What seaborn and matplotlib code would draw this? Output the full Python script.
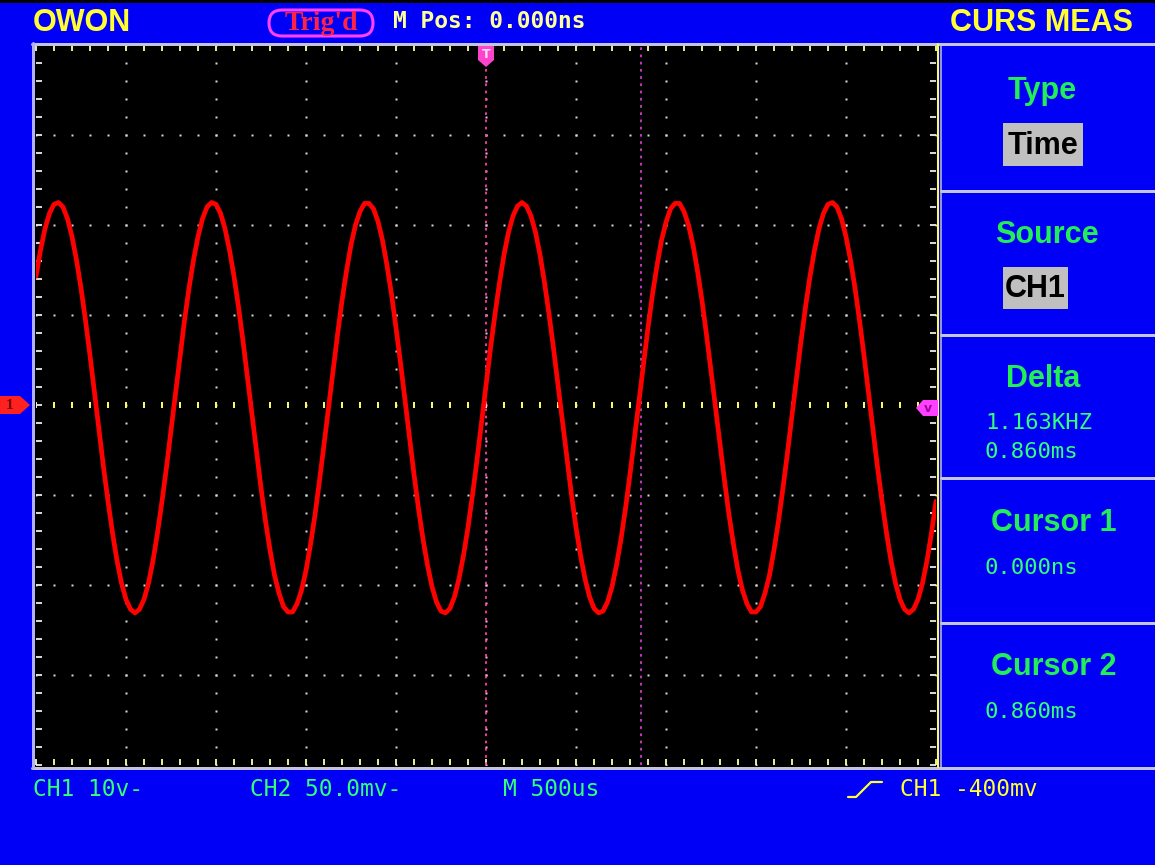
import numpy as np
import pandas as pd
import matplotlib
matplotlib.use("Agg")
import matplotlib.pyplot as plt
import seaborn as sns
from matplotlib.patches import Polygon, Rectangle, FancyBboxPatch
from matplotlib.lines import Line2D
from matplotlib.transforms import Affine2D

sample_interval_ms = 0.025
start_time_ms = -2.5
ch1_volts = [
    14.3, 17.2, 19.6, 21.3, 22.3, 22.5, 22.0, 20.7, 18.7, 16.1,
    13.0, 9.4, 5.5, 1.4, -2.8, -6.9, -10.7, -14.2, -17.3, -19.8,
    -21.6, -22.7, -23.1, -22.7, -21.6, -19.8, -17.3, -14.2, -10.7, -6.9,
    -2.8, 1.4, 5.5, 9.4, 13.0, 16.1, 18.7, 20.7, 22.0, 22.5,
    22.3, 21.3, 19.6, 17.2, 14.3, 10.9, 7.1, 3.0, -1.1, -5.3,
    -9.2, -12.9, -16.1, -18.9, -20.9, -22.4, -23.0, -23.0, -22.1, -20.6,
    -18.4, -15.5, -12.2, -8.4, -4.4, -0.3, 3.8, 7.8, 11.6, 14.9,
    17.8, 20.0, 21.5, 22.4, 22.4, 21.8, 20.4, 18.3, 15.5, 12.3,
    8.6, 4.7, 0.5, -3.6, -7.7, -11.5, -14.9, -17.8, -20.2, -21.9,
    -22.9, -23.1, -22.6, -21.3, -19.3, -16.7, -13.6, -10.0, -6.1, -2.0,
    2.2, 6.3, 10.1, 13.6, 16.7, 19.2, 21.0, 22.1, 22.5, 22.1,
    21.0, 19.2, 16.7, 13.6, 10.1, 6.3, 2.2, -2.0, -6.1, -10.0,
    -13.6, -16.7, -19.3, -21.3, -22.6, -23.1, -22.9, -21.9, -20.2, -17.8,
    -14.9, -11.5, -7.7, -3.6, 0.5, 4.7, 8.6, 12.3, 15.5, 18.3,
    20.3, 21.8, 22.4, 22.4, 21.5, 20.0, 17.8, 14.9, 11.6, 7.8,
    3.8, -0.3, -4.4, -8.4, -12.2, -15.5, -18.4, -20.6, -22.1, -23.0,
    -23.0, -22.4, -20.9, -18.9, -16.1, -12.9, -9.2, -5.3, -1.1, 3.0,
    7.1, 10.9, 14.3, 17.2, 19.6, 21.3, 22.3, 22.5, 22.0, 20.7,
    18.7, 16.1, 13.0, 9.4, 5.5, 1.4, -2.8, -6.9, -10.7, -14.2,
    -17.3, -19.8, -21.6, -22.7, -23.1, -22.7, -21.6, -19.8, -17.3, -14.2,
    -10.7,
]
time_ms = start_time_ms + sample_interval_ms * np.arange(len(ch1_volts))

cursor_times_ms = [0.0, 0.860]
header_left = "OWON"
header_trig = "Trig'd"
header_pos = "M Pos: 0.000ns"
header_menu = "CURS MEAS"
menu_titles = ["Type", "Source", "Delta", "Cursor 1", "Cursor 2"]
menu_boxes = ["Time", "CH1"]
delta_values = ["1.163KHZ", "0.860ms"]
cursor_values = ["0.000ns", "0.860ms"]
footer_green = ["CH1 10v-", "CH2 50.0mv-", "M 500us"]
footer_trig = "CH1 -400mv"

# ---------------- style ----------------
sns.set_style("white")
plt.rcParams["font.family"] = ["DejaVu Sans"]

BLUE = "#0000f6"
GREEN = "#22ee55"
GREEN2 = "#33ff77"
YELLOW = "#ffff33"
PALEY = "#ffff99"
GRAYLINE = "#c4c4dc"
MAG = "#ff40ff"

W, H = 1155, 865
fig = plt.figure(figsize=(W / 100, H / 100), dpi=100, facecolor=BLUE)
PIX = Affine2D().scale(1, -1).translate(0, H)  # top-left pixel coords -> display


def fx(x):
    return x / W


def fy(y):
    return 1 - y / H


def fline(xs, ys, color, lw, z=3, **kw):
    fig.add_artist(Line2D([fx(v) for v in xs], [fy(v) for v in ys],
                          transform=fig.transFigure, color=color,
                          linewidth=lw * 0.72, zorder=z, **kw))


def fpoly(pts, color, z=6):
    fig.add_artist(Polygon([(fx(a), fy(b)) for a, b in pts], closed=True,
                           transform=fig.transFigure, facecolor=color,
                           edgecolor="none", zorder=z))


def ftext(x, y, s, **kw):
    fig.text(fx(x), fy(y), s, **kw)


# top black strip
fig.add_artist(Rectangle((0, fy(3)), 1, 3 / H, transform=fig.transFigure,
                         facecolor="black", edgecolor="none", zorder=-4))
# black screen area
fig.add_artist(Rectangle((fx(34), fy(767)), (937 - 34) / W, (767 - 45) / H,
                         transform=fig.transFigure, facecolor="black",
                         edgecolor="none", zorder=-5))

ax = fig.add_axes([36 / W, 1 - 765 / H, 900 / W, 720 / H])
ax.set_facecolor("black")
ax.patch.set_alpha(0)
for s in ax.spines.values():
    s.set_visible(False)
ax.set_xticks([])
ax.set_yticks([])
ax.set_xlim(-2.5, 2.5)
ax.set_ylim(-40, 40)

# grid dots
dot_x = np.round(np.arange(-2.5, 2.5001, 0.1), 3)
dot_y = np.round(np.arange(-40, 40.001, 2), 3)
for gy in [-30, -20, -10, 10, 20, 30]:
    ax.plot(dot_x, np.full_like(dot_x, gy), ls="none", marker="s",
            ms=1.5, color="#d8d8d8", mec="none", zorder=1)
for gx in [-2.0, -1.5, -1.0, -0.5, 0.5, 1.0, 1.5, 2.0]:
    ax.plot(np.full_like(dot_y, gx), dot_y, ls="none", marker="s",
            ms=1.5, color="#d8d8d8", mec="none", zorder=1)
# center row
ax.plot(dot_x, np.zeros_like(dot_x), ls="none", marker="|", ms=4.5, mew=1.4,
        color="#ffff66", zorder=1)
# center column (trigger position) dots
ax.plot(np.zeros_like(dot_y), dot_y, ls="none", marker="s", ms=2.0,
        color="#ffb0ff", mec="none", zorder=1)

# border ticks
ax.vlines(dot_x, 40 - 0.65, 40, colors="#ffffaa", linewidth=1.3, clip_on=False)
ax.vlines(dot_x, -40, -40 + 0.65, colors="#ffffaa", linewidth=1.3, clip_on=False)
ax.hlines(dot_y, -2.5, -2.5 + 0.033, colors="#eeeeee", linewidth=1.3, clip_on=False)
ax.hlines(dot_y, 2.5 - 0.033, 2.5, colors="#eeeeee", linewidth=1.3, clip_on=False)

# cursor lines
ax.axvline(cursor_times_ms[0], color="#ff40a0", lw=1.3, ls=(0, (1.5, 2.5)), zorder=2)
ax.axvline(cursor_times_ms[1], color="#cc40cc", lw=1.3, ls=(0, (1.5, 2.5)), zorder=2)

# waveform
df = pd.DataFrame({"t": time_ms, "v": ch1_volts})
sns.lineplot(data=df, x="t", y="v", ax=ax, color="#ff0000", linewidth=3.4,
             estimator=None, sort=False, zorder=3)
ax.set_xlabel("")
ax.set_ylabel("")

# frame lines
fline([32, 1155], [43.5, 43.5], GRAYLINE, 3)
fline([32, 1155], [767.5, 767.5], GRAYLINE, 3)
fline([33, 33], [43, 768], "#b0b0ff", 3)
fline([937.5, 937.5], [44, 767], YELLOW, 2)
fline([940.5, 940.5], [44, 767], GRAYLINE, 1.5)
for yy in [191, 335, 478, 623]:
    fline([941, 1155], [yy, yy], GRAYLINE, 3)

# markers
fpoly([(0, 396), (20, 396), (30, 405), (20, 414), (0, 414)], "#ff2020")
ftext(10, 405, "1", color="#700000", fontsize=11, fontweight="bold",
      family="Liberation Serif", ha="center", va="center", zorder=7)
fpoly([(478, 46), (494, 46), (494, 60), (486, 67), (478, 60)], "#ff44cc")
ftext(486, 55, "T", color="#ffe0ff", fontsize=9, fontweight="bold",
      ha="center", va="center", zorder=7)
fpoly([(938, 400), (938, 416), (923, 416), (916, 408), (923, 400)], MAG)
ftext(928, 408, "v", color="#a000a0", fontsize=9, fontweight="bold",
      ha="center", va="center", zorder=7)

# header
ftext(33, 23, header_left, color=YELLOW, fontsize=22, fontweight="bold",
      family="Liberation Sans", ha="left", va="center")
fig.add_artist(FancyBboxPatch((269, 10), 104, 26,
                              boxstyle="round,pad=0,rounding_size=13",
                              transform=PIX, facecolor=BLUE, edgecolor=MAG,
                              linewidth=2.2, zorder=4))
ftext(321, 23, header_trig, color="#ff2244", fontsize=20, fontweight="bold",
      family="Liberation Serif", ha="center", va="center", zorder=5)
ftext(393, 22, header_pos, color=PALEY, fontsize=16.5, fontweight="bold",
      family="DejaVu Sans Mono", ha="left", va="center")
ftext(1133, 23, header_menu, color=YELLOW, fontsize=22, fontweight="bold",
      family="Liberation Sans", ha="right", va="center")

# right menu
title_pos = [(1042, 91), (1047, 235), (1043, 379), (1054, 523), (1054, 667)]
for (x, y), s in zip(title_pos, menu_titles):
    ftext(x, y, s, color=GREEN, fontsize=22, fontweight="bold",
          family="Liberation Sans", ha="center", va="center")
box_rects = [(1003, 123, 80, 43), (1003, 267, 65, 42)]
for (bx, by, bw, bh), s in zip(box_rects, menu_boxes):
    fig.add_artist(Rectangle((fx(bx), fy(by + bh)), bw / W, bh / H,
                             transform=fig.transFigure, facecolor="#c0c0c0",
                             edgecolor="none", zorder=4))
    ftext(bx + bw / 2, by + bh / 2 + 1, s, color="black", fontsize=22,
          fontweight="bold", family="Liberation Sans", ha="center",
          va="center", zorder=5)
for y, s in zip([423, 452], delta_values):
    ftext(985, y, s, color=GREEN2, fontsize=16, family="DejaVu Sans Mono",
          ha="left", va="center")
for y, s in zip([568, 712], cursor_values):
    ftext(985, y, s, color=GREEN2, fontsize=16, family="DejaVu Sans Mono",
          ha="left", va="center")

# footer
for x, s in zip([33, 250, 503], footer_green):
    ftext(x, 789, s, color=GREEN2, fontsize=16.5, family="DejaVu Sans Mono",
          ha="left", va="center")
fline([848, 856, 871, 882], [797, 797, 782, 782], YELLOW, 2.2)
ftext(900, 789, footer_trig, color=YELLOW, fontsize=16.5,
      family="DejaVu Sans Mono", ha="left", va="center")

fig.savefig("out.png", dpi=100, facecolor=BLUE)
